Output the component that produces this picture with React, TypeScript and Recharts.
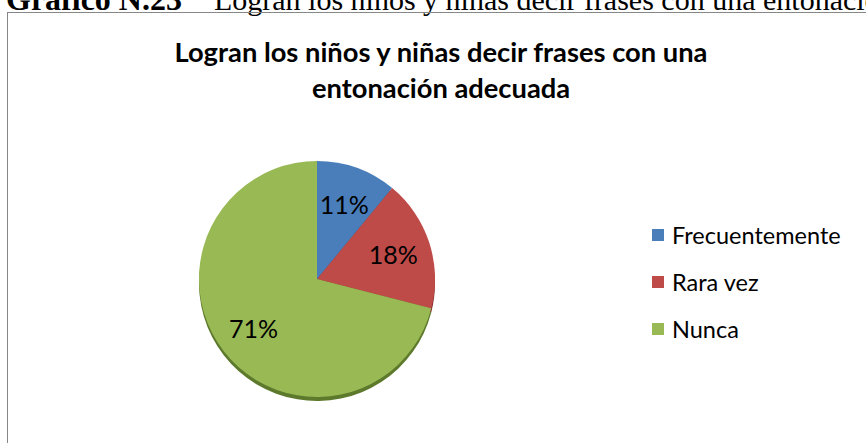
import { PieChart, Pie, Cell, Legend } from "recharts";

const categories = ["Frecuentemente", "Rara vez", "Nunca"];
const values = [11, 18, 71];
const colors = ["#4a7ebb", "#be4b48", "#98b954"];
const rimColors = ["#2f5586", "#86302e", "#5d7a2c"];

const data = categories.map((name, i) => ({ name, value: values[i] }));

const RADIAN = Math.PI / 180;
const sans = "Lato, 'Open Sans', sans-serif";

function renderLabel(props: any) {
  const { cx, cy, midAngle, outerRadius, percent } = props;
  const r = outerRadius * 0.68;
  const x = cx + r * Math.cos(-midAngle * RADIAN);
  const y = cy + r * Math.sin(-midAngle * RADIAN);
  return (
    <text x={x} y={y} fill="#000" fontSize={25} fontFamily={sans} textAnchor="middle" dominantBaseline="central">
      {`${Math.round(percent * 100)}%`}
    </text>
  );
}

// legend built from the category list so the rim pie does not show up
function renderLegend() {
  return (
    <div>
      {categories.map((name, i) => (
        <div key={name} style={{ display: "flex", alignItems: "center", height: 47, fontFamily: sans, fontSize: 23.5, color: "#000" }}>
          <span style={{ display: "inline-block", width: 12, height: 12, background: colors[i], marginRight: 8 }} />
          {name}
        </div>
      ))}
    </div>
  );
}

export default function App() {
  return (
    <div style={{ position: "absolute", left: 0, top: 0, width: 866, height: 443, overflow: "hidden", background: "#fff" }}>
      <div
        style={{
          position: "absolute",
          left: 6,
          top: -18,
          whiteSpace: "nowrap",
          fontFamily: "'Liberation Serif', 'Times New Roman', serif",
          fontSize: 30,
          lineHeight: "34px",
        }}
      >
        <b style={{ fontSize: 32 }}>Gráfico N.23</b>
        <span style={{ marginLeft: 32 }}>Logran los niños y niñas decir frases con una entonación adecuada</span>
      </div>
      <div style={{ position: "absolute", left: 7, top: 12, width: 900, height: 500, border: "1.5px solid #878787" }} />
      <div style={{ position: "absolute", left: 0, top: 34, width: 882, textAlign: "center", fontFamily: sans, fontWeight: 700, fontSize: 27.3, lineHeight: "36px" }}>
        Logran los niños y niñas decir frases con una
        <br />
        entonación adecuada
      </div>
      <div style={{ position: "absolute", left: 0, top: 0 }}>
        <PieChart width={866} height={443} margin={{ top: 0, right: 0, bottom: 0, left: 0 }}>
          <Pie
            data={data}
            dataKey="value"
            cx={317}
            cy={283}
            outerRadius={118}
            startAngle={90}
            endAngle={-270}
            stroke="none"
            isAnimationActive={false}
            legendType="none"
          >
            {data.map((_, i) => (
              <Cell key={i} fill={rimColors[i]} />
            ))}
          </Pie>
          <Pie
            data={data}
            dataKey="value"
            nameKey="name"
            cx={317}
            cy={279}
            outerRadius={118}
            startAngle={90}
            endAngle={-270}
            stroke="none"
            label={renderLabel}
            labelLine={false}
            isAnimationActive={false}
          >
            {data.map((_, i) => (
              <Cell key={i} fill={colors[i]} />
            ))}
          </Pie>
          <Legend
            layout="vertical"
            content={renderLegend}
            wrapperStyle={{ left: 652, top: 211, width: 214 }}
          />
        </PieChart>
      </div>
    </div>
  );
}
